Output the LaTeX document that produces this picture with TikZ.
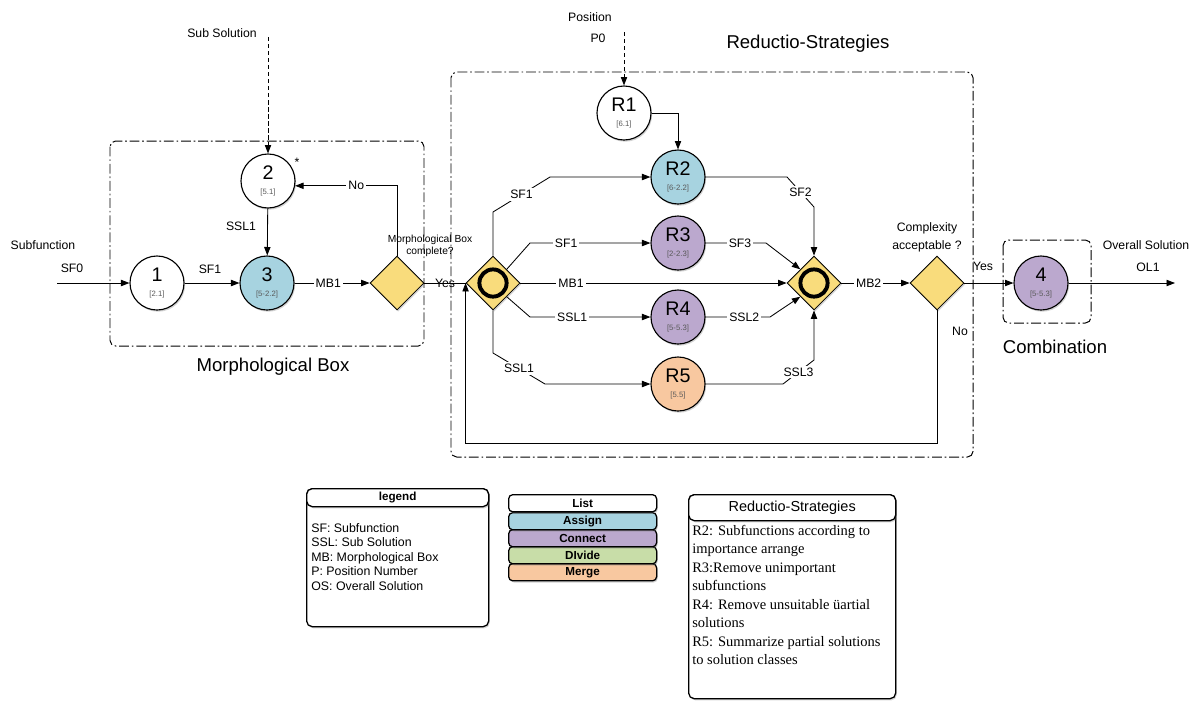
\documentclass[tikz,border=0pt]{standalone}
\usepackage{fontspec}
\setmainfont{Liberation Sans}
\newfontfamily\serifx{Liberation Serif}
\usetikzlibrary{arrows.meta,shapes.geometric,shadows,calc}
\definecolor{cblue}{HTML}{A7D3E0}
\definecolor{cpurp}{HTML}{BBA8CE}
\definecolor{corng}{HTML}{F8C8A0}
\definecolor{cyel}{HTML}{F9DC7C}
\definecolor{cgrn}{HTML}{C8DDA8}
\newcommand\pnum[2]{{\fontsize{14}{14}\selectfont #1}\\[-1pt]{\fontsize{5.5}{6}\selectfont\color{black!65}#2}}
\tikzset{
 arr/.style={-{Triangle[length=6pt,width=4.5pt]}, line width=0.6pt},
 ln/.style={line width=0.6pt},
 lbl/.style={fill=white, inner sep=1.5pt, font=\fontsize{8.7}{9}\selectfont},
 txt/.style={font=\fontsize{8.7}{9}\selectfont, inner sep=0pt},
 big/.style={font=\fontsize{13.2}{14}\selectfont, inner sep=0pt},
 shad/.style={drop shadow={opacity=0.35, shadow xshift=0.8pt, shadow yshift=-1.2pt}},
 proc/.style={circle, draw, line width=0.8pt, minimum size=1.35cm, inner sep=0pt, align=center, shad},
 dia/.style={diamond, draw, line width=0.6pt, fill=cyel, minimum width=1.35cm, minimum height=1.35cm, inner sep=0pt, aspect=1, shad},
 grp/.style={draw, line width=0.7pt, rounded corners=4pt, dash pattern=on 7pt off 2pt on 1.2pt off 2pt},
 inp/.style={line width=0.6pt, dash pattern=on 3pt off 2pt},
 ring/.style={line width=2.8pt},
 lbox/.style={rectangle, draw, line width=0.9pt, rounded corners=4pt, fill=white, inner sep=0pt, anchor=north west, shad},
 lst/.style={rectangle, draw, line width=0.9pt, rounded corners=3pt, inner sep=0pt, anchor=north west, minimum width=3.7cm, minimum height=0.43cm, font=\bfseries\fontsize{8.3}{9}\selectfont, shad},
}
\begin{document}
\begin{tikzpicture}[x=0.025cm,y=-0.025cm]
\useasboundingbox (0,0) rectangle (1198,700);
% group boxes
\draw[grp] (110,141) rectangle (424,346);
\draw[grp] (451,72) rectangle (973,457);
\draw[grp] (1003,240) rectangle (1091,323);
\node[big] (tmorph) at (273,367) {Morphological Box};
\node[big] (tred) at (808,44) {Reductio-Strategies};
\node[big] (tcomb) at (1055,347) {Combination};

% nodes
\node[proc, fill=white] (n1) at (157,283) {\pnum{1}{[2.1]}};
\node[proc, fill=white] (n2) at (268,181) {\pnum{2}{[5.1]}};
\node[proc, fill=cblue] (n3) at (267,283) {\pnum{3}{[5-2.2]}};
\node[dia] (D1) at (397,283) {};
\node[dia] (G1) at (493,283) {};
\draw[ring] (G1.center) circle[radius=0.34cm];
\node[proc, fill=white] (R1) at (624,113) {\pnum{R1}{[6.1]}};
\node[proc, fill=cblue] (R2) at (678,177) {\pnum{R2}{[6-2.2]}};
\node[proc, fill=cpurp] (R3) at (678,243) {\pnum{R3}{[2-2.3]}};
\node[proc, fill=cpurp] (R4) at (678,317) {\pnum{R4}{[5-5.3]}};
\node[proc, fill=corng] (R5) at (678,384) {\pnum{R5}{[5.5]}};
\node[dia] (G2) at (814,283) {};
\draw[ring] (G2.center) circle[radius=0.34cm];
\node[dia] (D2) at (937,283) {};
\node[proc, fill=cpurp] (n4) at (1041,283) {\pnum{4}{[5-5.3]}};

% texts
\node[txt] (tsubf) at (43,245) {Subfunction};
\node[txt] (tsf0) at (72,268) {SF0};
\node[txt] (tsubs) at (222,33) {Sub Solution};
\node[txt] (tpos) at (590,17) {Position};
\node[txt] (tp0) at (598,38) {P0};
\node[txt] (tast) at (297,162) {*};
\node[txt, align=center, font=\fontsize{7.3}{8.5}\selectfont] (tmbc) at (430,246) {Morphological Box\\complete?};
\node[txt] (tyes1) at (445,283) {Yes};
\node[txt, align=center, font=\fontsize{8.7}{13}\selectfont] (tcplx) at (927,237) {Complexity\\acceptable ?};
\node[txt] (tyes2) at (983,266) {Yes};
\node[txt] (tno2) at (960,331) {No};
\node[txt] (tos) at (1146,245) {Overall Solution};
\node[txt] (tol) at (1148,267) {OL1};
\node[txt] (tsf1a) at (210,269) {SF1};
\node[txt] (tssl) at (241,226) {SSL1};

\coordinate (sfsrc) at (57,283);
\coordinate (subsrc) at (268,37);
\coordinate (psrc) at (624,32);
\coordinate (olend) at (1175,283);

% connectors
\draw[arr] (sfsrc) -- (n1);
\draw[arr] (n1) -- (n3);
\draw[arr] (n2) -- (n3);
\draw[inp, -{Triangle[length=6pt,width=4.5pt]}] (subsrc) -- (n2);
\draw[inp, -{Triangle[length=6pt,width=4.5pt]}] (psrc) -- (R1);
\draw[arr] (n3) -- node[lbl, pos=0.45]{MB1} (D1.west);
\draw[arr] (D1.north) |- node[lbl, pos=0.7]{No} (n2.-10);
\draw[ln] (D1.east) -- (G1.west);
\draw[arr] (R1.east) -| (R2.north);
\draw[arr] (G1.north) -- (493,212) -- node[lbl]{SF1} (550,177) -- (R2.west);
\draw[arr] (G1.north east) -- (530,243) -- node[lbl, pos=0.3]{SF1} (R3.west);
\draw[arr] (G1.east) -- node[lbl, pos=0.19]{MB1} (G2.west);
\draw[arr] (G1.south east) -- (530,317) -- node[lbl, pos=0.35]{SSL1} (R4.west);
\draw[arr] (G1.south) -- (493,353) -- node[lbl]{SSL1} (545,384) -- (R5.west);
\draw[arr] (R2.east) -- (787,177) -- node[lbl]{SF2} (814,207) -- (G2.north);
\draw[arr] (R3.east) -- node[lbl, pos=0.57]{SF3} (766,243) -- (G2.north west);
\draw[arr] (R4.east) -- node[lbl, pos=0.6]{SSL2} (770,317) -- (G2.south west);
\draw[arr] (R5.east) -- (783,384) -- node[lbl]{SSL3} (814,360) -- (G2.south);
\draw[arr] (G2.east) -- node[lbl, pos=0.4]{MB2} (D2.west);
\draw[arr] (D2.east) -- (n4.west);
\draw[arr] (n4.east) -- (olend);
\draw[arr] (D2.south) |- (G1.west |- 0,443) -- (G1.west);

% legend
\node[lbox, minimum width=4.55cm, minimum height=3.45cm] (leg) at (306,488) {};
\node[lbox, minimum width=4.55cm, minimum height=0.45cm, font=\bfseries\fontsize{8.3}{9}\selectfont] (legh) at (306,488) {legend};
\node[anchor=north west, inner sep=0pt, align=left, font=\fontsize{8.8}{10.3}\selectfont] (legt) at (311,523) {SF: Subfunction\\SSL: Sub Solution\\MB: Morphological Box\\P: Position Number\\OS: Overall Solution};

\node[lst, fill=corng] (lm) at (508,563) {Merge};
\node[lst, fill=cgrn] (ld) at (508,546) {DIvide};
\node[lst, fill=cpurp] (lc) at (508,529) {Connect};
\node[lst, fill=cblue] (la) at (508,512) {Assign};
\node[lst, fill=white] (ll) at (508,494) {List};

\node[lbox, minimum width=5.175cm, minimum height=5.1cm] (rs) at (688,494) {};
\node[lbox, minimum width=5.175cm, minimum height=0.65cm, font=\fontsize{10.3}{11}\selectfont] (rsh) at (688,494) {Reductio-Strategies};
\node[anchor=north west, inner sep=0pt, align=left, font=\serifx\fontsize{10.3}{13.1}\selectfont] (rst) at (692,525) {R2: Subfunctions according to\\importance arrange\\R3:Remove unimportant\\subfunctions\\R4: Remove unsuitable üartial\\solutions\\R5: Summarize partial solutions\\to solution classes};
\end{tikzpicture}
\end{document}
